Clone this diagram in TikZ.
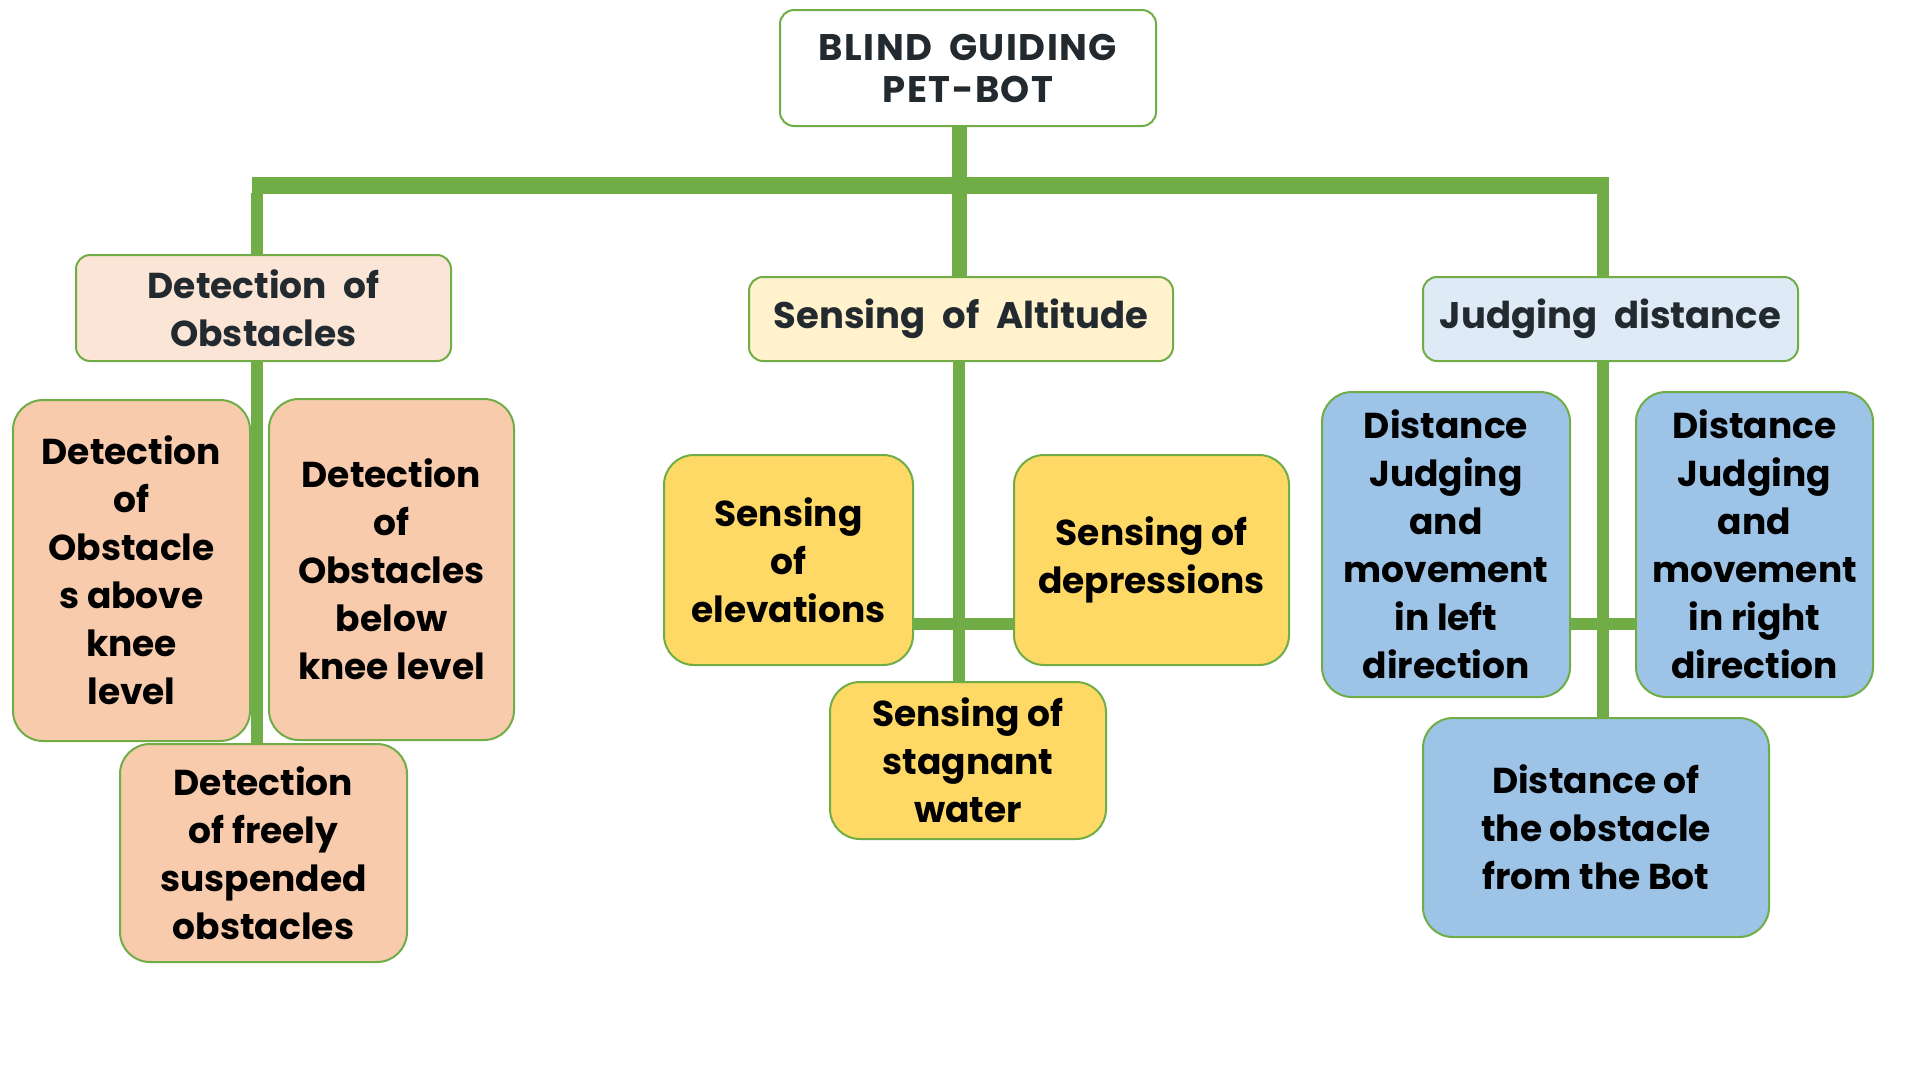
\documentclass[tikz,border=0pt]{standalone}
\usepackage{fontspec}
\setmainfont{Poppins}
\usetikzlibrary{backgrounds}
\definecolor{gline}{HTML}{70AD47}
\definecolor{peachA}{HTML}{FBE5D6}
\definecolor{peachB}{HTML}{F8CBAD}
\definecolor{creamA}{HTML}{FFF2CC}
\definecolor{yellowB}{HTML}{FFD966}
\definecolor{blueA}{HTML}{DEEBF7}
\definecolor{blueB}{HTML}{9DC3E6}
\definecolor{headtxt}{HTML}{222A30}
\newcommand{\wsp}{\hspace{0.45em}}
\tikzset{
  box/.style={draw=gline, line width=2pt, rounded corners=30pt, align=center,
    inner sep=0pt, text=black, font=\bfseries\fontsize{36}{48}\selectfont},
  head/.style={box, rounded corners=14pt, text=headtxt},
  widehead/.style={head, font=\bfseries\fontsize{37}{48}\selectfont},
  conn/.style={draw=gline, line width=12pt},
  trunk/.style={draw=gline, line width=15pt},
  bar/.style={draw=gline, line width=17pt},
}
\begin{document}
\begin{tikzpicture}[x=1pt,y=-1pt]
\useasboundingbox (0,0) rectangle (1920,1080);
% header boxes
\node[head, fill=white, minimum width=376pt, minimum height=116pt,
  font=\bfseries\fontsize{37}{42}\selectfont\addfontfeature{LetterSpace=4}] (root) at (968,68) {BLIND\wsp GUIDING\\PET-BOT};
\node[head, fill=peachA, minimum width=375pt, minimum height=106pt] (obs) at (263.5,308) {Detection\wsp of\\Obstacles};
\node[widehead, fill=creamA, minimum width=424pt, minimum height=84pt] (alt) at (961,319) {Sensing\wsp of\wsp Altitude};
\node[widehead, fill=blueA, minimum width=375pt, minimum height=84pt] (jud) at (1610.5,319) {Judging\wsp distance};
% obstacle children
\node[box, fill=peachB, minimum width=237pt, minimum height=341pt] (above) at (131.5,570.5) {Detection\\of\\Obstacle\\s above\\knee\\level};
\node[box, fill=peachB, minimum width=245pt, minimum height=341pt] (below) at (391.5,569.5) {Detection\\of\\Obstacles\\below\\knee level};
\node[box, fill=peachB, minimum width=287pt, minimum height=218pt] (freely) at (263.5,853) {Detection\\of freely\\suspended\\obstacles};
% altitude children
\node[box, fill=yellowB, minimum width=249pt, minimum height=210pt] (elev) at (788.5,560) {Sensing\\of\\elevations};
\node[box, fill=yellowB, minimum width=275pt, minimum height=210pt] (dep) at (1151.5,560) {Sensing of\\depressions};
\node[box, fill=yellowB, minimum width=276pt, minimum height=157pt] (stag) at (968,760.5) {Sensing of\\stagnant\\water};
% distance children
\node[box, fill=blueB, minimum width=248pt, minimum height=305pt] (left) at (1446,544.5) {Distance\\Judging\\and\\movement\\in left\\direction};
\node[box, fill=blueB, minimum width=237pt, minimum height=305pt] (right) at (1754.5,544.5) {Distance\\Judging\\and\\movement\\in right\\direction};
\node[box, fill=blueB, minimum width=346pt, minimum height=219pt] (bot) at (1596,827.5) {Distance of\\the obstacle\\from the Bot};
% connectors
\coordinate (hub) at (959,185);
\coordinate (barL) at (252,185);
\coordinate (barR) at (1609,185);
\coordinate (jl) at (257,185);
\coordinate (jr) at (1603,185);
\coordinate (ay) at (0,624);
\begin{scope}[on background layer]
\fill[white] (0,0) rectangle (1920,1080);
\draw[trunk] (root.south -| hub) -- (hub);
\draw[bar] (barL) -- (barR);
\draw[conn] ([yshift=-8pt]jl) -- (jl |- obs.north);
\draw[trunk] (hub) -- (hub |- alt.north);
\draw[conn] ([yshift=-8pt]jr) -- (jr |- jud.north);
\draw[conn] (obs.south -| jl) -- (jl |- freely.north);
\draw[conn] (alt.south -| hub) -- (hub |- stag.north);
\draw[conn] (elev.east |- ay) -- (dep.west |- ay);
\draw[conn] (jud.south -| jr) -- (jr |- bot.north);
\draw[conn] (left.east |- ay) -- (right.west |- ay);
\end{scope}
\end{tikzpicture}
\end{document}
